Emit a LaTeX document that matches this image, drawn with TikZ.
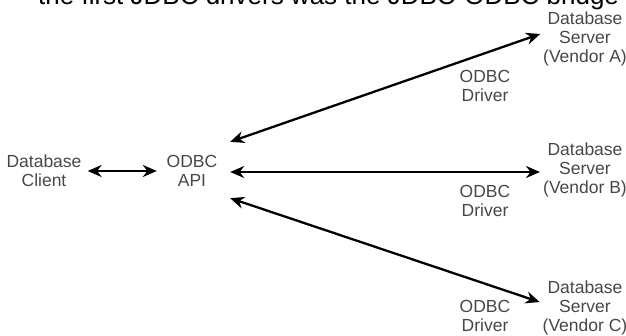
\documentclass[tikz,border=0pt]{standalone}
\usepackage{fontspec}
\setmainfont{Liberation Sans}
\usetikzlibrary{arrows.meta}

\begin{document}
\begin{tikzpicture}[x=1pt,y=-1pt]
            \tikzset{label/.style={align=center, text=black!72, inner sep=0pt, font=\fontsize{17.5}{19}\selectfont}}
            \tikzset{link/.style={line width=2.3pt, {Stealth[length=14pt,width=12pt]}-{Stealth[length=14pt,width=12pt]}}}

            \useasboundingbox (0,0) rectangle (626,336);
            \clip (0,0) rectangle (626,336);

            % caption text cut off at the top
            \node[anchor=base west, inner sep=0pt, font=\fontsize{26}{30}\selectfont] (caption) at (38,4.5) {the first JDBC drivers was the JDBC-ODBC bridge};

            \node[label] (client) at (44,171) {Database\\Client};
            \node[label, minimum width=76pt, minimum height=58pt] (api) at (192,171) {ODBC\\API};

            \node[label] (srvA) at (585,39) {Database\\Server\\(Vendor A)};
            \node[label] (srvB) at (585,170) {Database\\Server\\(Vendor B)};
            \node[label] (srvC) at (585,308) {Database\\Server\\(Vendor C)};

            \node[label] (drvA) at (485,86) {ODBC\\Driver};
            \node[label] (drvB) at (485,201) {ODBC\\Driver};
            \node[label] (drvC) at (485,316) {ODBC\\Driver};

            \draw[link, shorten <=6pt, shorten >=-3pt] (client.east) -- (api.west);
            \draw[link, shorten >=3pt] (api.north east) -- ([yshift=6pt]srvA.west);
            \draw[link, shorten >=3pt] ([yshift=-1pt]api.east) -- ([yshift=-2pt]srvB.west);
            \draw[link, shorten >=3pt] ([yshift=2pt]api.south east) -- ([yshift=5pt]srvC.west);
\end{tikzpicture}
\end{document}
